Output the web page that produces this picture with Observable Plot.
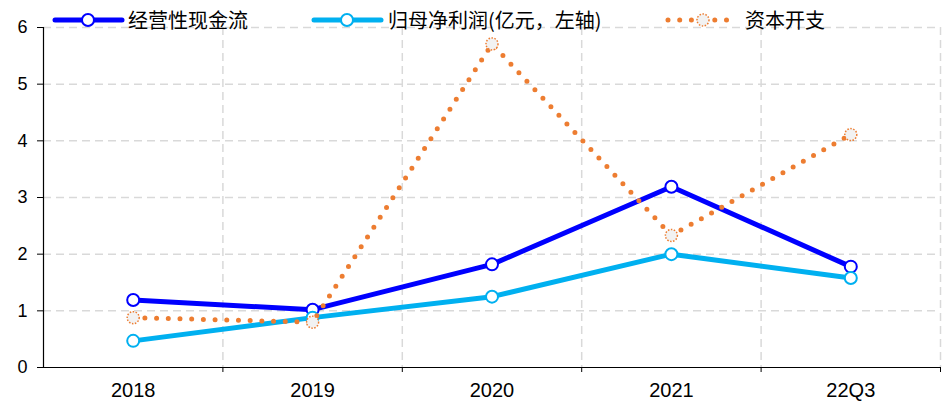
<!DOCTYPE html>
<html>
<head>
<meta charset="utf-8">
<script src="https://cdn.jsdelivr.net/npm/d3@7"></script>
<script src="https://cdn.jsdelivr.net/npm/@observablehq/plot@0.6"></script>
<style>
  body { margin: 0; background: #fff; }
  #wrap { position: relative; width: 945px; height: 403px; }
  #legend { position: absolute; left: 0; top: 0; }
</style>
</head>
<body>
<div id="wrap"></div>
<script>
// Periods on the x axis
const categories = ["2018", "2019", "2020", "2021", "22Q3"];
// Series names (legend order)
const seriesNames = ["经营性现金流", "归母净利润(亿元，左轴)", "资本开支"];
// Values, 亿元
const operatingCashFlow = [1.19, 1.02, 1.82, 3.19, 1.78];
const netProfit = [0.47, 0.88, 1.25, 2.00, 1.58];
const capex = [0.88, 0.80, 5.71, 2.33, 4.11];
// Y axis ticks
const yTicks = [0, 1, 2, 3, 4, 5, 6];

const colors = ["#0000FF", "#00B0F0", "#ED7D31"];

const toRows = (vals, s) => vals.map((v, i) => ({i, cat: categories[i], v, s}));
const cashRows = toRows(operatingCashFlow, seriesNames[0]);
const profitRows = toRows(netProfit, seriesNames[1]);
const capexRows = toRows(capex, seriesNames[2]);

// Band boundaries between periods (gridlines and axis ticks)
const bounds = categories.map((_, i) => i + 0.5);
const centers = categories.map((_, i) => i);

const chart = Plot.plot({
  width: 945,
  height: 403,
  marginLeft: 43,
  marginRight: 5,
  marginTop: 27,
  marginBottom: 36,
  x: {domain: [-0.5, categories.length - 0.5]},
  y: {domain: [0, 6]},
  style: {
    fontFamily: "'Liberation Sans', Arial, sans-serif",
    fontSize: "18px",
    color: "#000",
    background: "#fff",
    overflow: "visible"
  },
  marks: [
    Plot.ruleY(yTicks.slice(1), {stroke: "#d9d9d9", strokeWidth: 1.5, strokeDasharray: "8,5"}),
    Plot.ruleX(bounds, {stroke: "#d9d9d9", strokeWidth: 1.5, strokeDasharray: "8,5"}),
    Plot.axisY({ticks: yTicks, tickSize: 6, tickPadding: 10, tickFormat: d => d, label: null, stroke: "#000", fontSize: 18}),
    Plot.axisX({ticks: centers, tickSize: 0, tickPadding: 15, tickFormat: i => categories[i], label: null, fontSize: 20}),
    Plot.axisX({ticks: bounds, tickSize: 5, tickFormat: () => "", label: null, stroke: "#000"}),
    Plot.ruleY([0], {stroke: "#000", strokeWidth: 1.2}),
    Plot.ruleX([-0.5], {stroke: "#000", strokeWidth: 1.2}),

    // 经营性现金流
    Plot.line(cashRows, {x: "i", y: "v", stroke: colors[0], strokeWidth: 5}),
    Plot.dot(cashRows, {x: "i", y: "v", r: 6, fill: "#fff", stroke: colors[0], strokeWidth: 2}),
    // 归母净利润
    Plot.line(profitRows, {x: "i", y: "v", stroke: colors[1], strokeWidth: 5}),
    Plot.dot(profitRows, {x: "i", y: "v", r: 6, fill: "#fff", stroke: colors[1], strokeWidth: 2}),
    // 资本开支 (dotted)
    Plot.line(capexRows, {x: "i", y: "v", stroke: colors[2], strokeWidth: 5, strokeDasharray: "0,11.7", strokeLinecap: "round"}),
    Plot.dot(capexRows, {x: "i", y: "v", r: 6, fill: "#f2f2f2", stroke: colors[2], strokeWidth: 1.5, strokeDasharray: "1.5,1.5"})
  ]
});

const wrap = document.getElementById("wrap");
wrap.appendChild(chart);

// Legend drawn across the top of the plot
const legend = d3.select(wrap).append("svg")
  .attr("id", "legend")
  .attr("width", 945)
  .attr("height", 40);

const items = [
  {name: seriesNames[0], color: colors[0], x0: 55, x1: 122, cx: 88, tx: 128, dotted: false},
  {name: seriesNames[1], color: colors[1], x0: 314, x1: 381, cx: 347, tx: 388, dotted: false},
  {name: seriesNames[2], color: colors[2], x0: 668, x1: 730, cx: 703, tx: 745, dotted: true}
];
const ly = 20;
for (const it of items) {
  const g = legend.append("g");
  if (it.dotted) {
    g.append("line")
      .attr("x1", it.x0).attr("x2", it.x1 + 2).attr("y1", ly).attr("y2", ly)
      .attr("stroke", it.color).attr("stroke-width", 5)
      .attr("stroke-linecap", "round").attr("stroke-dasharray", "0,11.7");
    g.append("circle")
      .attr("cx", it.cx).attr("cy", ly).attr("r", 6)
      .attr("fill", "#f2f2f2").attr("stroke", it.color)
      .attr("stroke-width", 1.5).attr("stroke-dasharray", "1.5,1.5");
  } else {
    g.append("line")
      .attr("x1", it.x0).attr("x2", it.x1).attr("y1", ly).attr("y2", ly)
      .attr("stroke", it.color).attr("stroke-width", 5).attr("stroke-linecap", "round");
    g.append("circle")
      .attr("cx", it.cx).attr("cy", ly).attr("r", 6)
      .attr("fill", "#fff").attr("stroke", it.color).attr("stroke-width", 2);
  }
  g.append("text")
    .attr("x", it.tx).attr("y", ly - 1)
    .attr("dominant-baseline", "central")
    .attr("font-family", "'Noto Sans CJK SC', sans-serif")
    .attr("font-size", 20)
    .attr("fill", "#000")
    .text(it.name);
}
</script>
</body>
</html>
